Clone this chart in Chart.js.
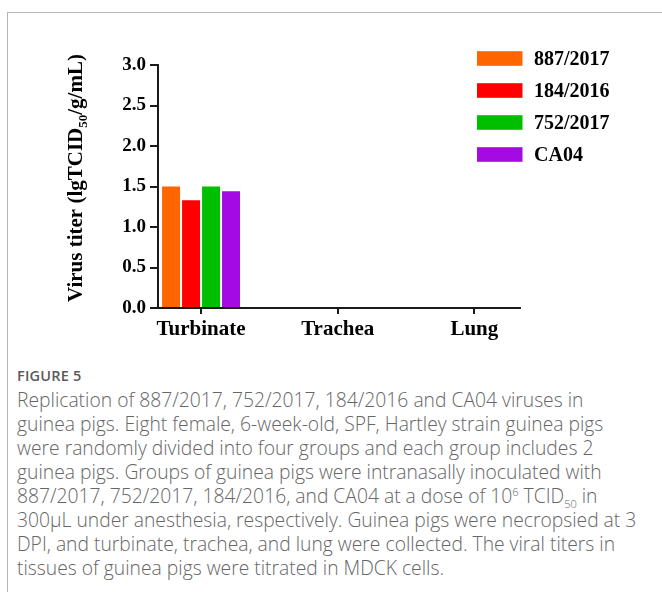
<!DOCTYPE html>
<html>
<head>
<meta charset="utf-8">
<script src="https://cdn.jsdelivr.net/npm/chart.js@4.4.1/dist/chart.umd.min.js"></script>
<style>
  body { margin: 0; background: #fff; width: 662px; height: 592px; overflow: hidden; position: relative; }
  .frame { position: absolute; left: 7px; top: 12px; width: 700px; height: 620px;
           border-left: 1px solid #b4b4b4; border-top: 1px solid #b4b4b4; }
  #chart { position: absolute; left: 0; top: 0; }
  .caption { position: absolute; left: 17px; top: 364px; font-family: "Open Sans", sans-serif;
             font-weight: 300; color: #666; font-size: 19.3px; line-height: 24px; white-space: nowrap; }
  .caption .fig { font-size: 14.5px; font-weight: 600; color: #5a5a5a; letter-spacing: 0.2px; }
  .caption sup, .caption sub { font-size: 11px; line-height: 0; }
</style>
</head>
<body>
<div class="frame"></div>
<canvas id="chart" width="662" height="345"></canvas>
<div class="caption">
  <div class="fig">FIGURE 5</div>
  Replication of 887/2017, 752/2017, 184/2016 and CA04 viruses in<br>
  guinea pigs. Eight female, 6-week-old, SPF, Hartley strain guinea pigs<br>
  were randomly divided into four groups and each group includes 2<br>
  guinea pigs. Groups of guinea pigs were intranasally inoculated with<br>
  887/2017, 752/2017, 184/2016, and CA04 at a dose of 10<sup>6</sup> TCID<sub>50</sub> in<br>
  300μL under anesthesia, respectively. Guinea pigs were necropsied at 3<br>
  DPI, and turbinate, trachea, and lung were collected. The viral titers in<br>
  tissues of guinea pigs were titrated in MDCK cells.
</div>
<script>
const tissues = ["Turbinate", "Trachea", "Lung"];
const strains = ["887/2017", "184/2016", "752/2017", "CA04"];
const titer887 = [1.5, 0, 0];
const titer184 = [1.33, 0, 0];
const titer752 = [1.5, 0, 0];
const titerCA04 = [1.44, 0, 0];
const yTicks = [0, 0.5, 1.0, 1.5, 2.0, 2.5, 3.0];
const colors = ["#ff6600", "#ff0000", "#00bf00", "#a40ae2"];

const serif = '"Liberation Serif", "Times New Roman", serif';

const seriesValues = [titer887, titer184, titer752, titerCA04];
const datasets = strains.map(function (name, i) {
    return {
        label: name,
        data: seriesValues[i].map(function (v, j) { return { x: j, y: v }; }),
        backgroundColor: colors[i],
        borderWidth: 0,
        categoryPercentage: 0.585,
        barPercentage: 0.9,
    };
});

// y title with subscript + legend drawn at the right
const extras = {
    id: "extras",
    afterDraw(chart) {
        const ctx = chart.ctx;
        ctx.save();
        ctx.fillStyle = "#000";
        ctx.translate(75, 178);
        ctx.rotate(-Math.PI / 2);
        const mainFont = "bold 21px " + serif;
        const subFont = "bold 13px " + serif;
        const p1 = "Virus titer (lgTCID", p2 = "50", p3 = "/g/mL)";
        ctx.font = mainFont;
        const w1 = ctx.measureText(p1).width, w3 = ctx.measureText(p3).width;
        ctx.font = subFont;
        const w2 = ctx.measureText(p2).width;
        let x = -(w1 + w2 + w3) / 2;
        ctx.font = mainFont;
        ctx.fillText(p1, x, 7);
        x += w1;
        ctx.font = subFont;
        ctx.fillText(p2, x, 12);
        x += w2;
        ctx.font = mainFont;
        ctx.fillText(p3, x, 7);
        ctx.restore();

        ctx.save();
        ctx.font = "bold 20px " + serif;
        ctx.textBaseline = "middle";
        chart.data.datasets.forEach(function (ds, i) {
            const cy = 58.5 + i * 32;
            ctx.fillStyle = ds.backgroundColor;
            ctx.fillRect(477, cy - 7.3, 45.5, 14.6);
            ctx.fillStyle = "#000";
            ctx.fillText(ds.label, 534, cy + 1);
        });
        ctx.restore();
    },
};

new Chart(document.getElementById("chart"), {
    type: "bar",
    data: { datasets },
    options: {
        responsive: false,
        animation: false,
        layout: { padding: { left: 0, top: 65, right: 142, bottom: 0 } },
        plugins: { legend: { display: false }, tooltip: { enabled: false } },
        scales: {
            x: {
                type: "linear",
                min: -0.315,
                max: 2.334,
                bounds: "data",
                offset: false,
                afterDataLimits: function (s) { s.min = -0.315; s.max = 2.334; },
                afterBuildTicks: function (s) {
                    s.ticks = tissues.map(function (t, i) { return { value: i }; });
                },
                afterFit: function (s) { s.height = 37; },
                ticks: {
                    autoSkip: false,
                    maxRotation: 0,
                    padding: 3,
                    color: "#000",
                    font: { family: serif, size: 21, weight: "bold" },
                    callback: function (v) { return tissues[v]; },
                },
                grid: { offset: false, drawOnChartArea: false, tickLength: 6, color: "#1a1a1a", lineWidth: 2 },
                border: { color: "#1a1a1a", width: 2 },
            },
            y: {
                min: 0,
                max: 3,
                afterBuildTicks: function (s) {
                    s.ticks = yTicks.map(function (v) { return { value: v }; });
                },
                afterFit: function (s) { s.width = 158; },
                ticks: {
                    padding: 4,
                    color: "#000",
                    font: { family: serif, size: 19, weight: "bold" },
                    callback: function (v) { return v.toFixed(1); },
                },
                grid: { drawOnChartArea: false, tickLength: 8, color: "#1a1a1a", lineWidth: 2 },
                border: { color: "#1a1a1a", width: 2 },
            },
        },
    },
    plugins: [extras],
});
</script>
</body>
</html>
